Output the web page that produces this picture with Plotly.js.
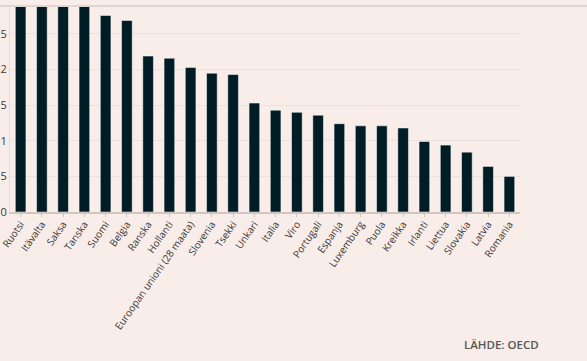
<!DOCTYPE html>
<html>
<head>
<meta charset="utf-8">
<script src="https://cdn.plot.ly/plotly-3.0.1.min.js"></script>
<style>
  html, body { margin: 0; padding: 0; background: #f8ede8; }
  #chart { width: 587px; height: 361px; }
</style>
</head>
<body>
<div id="chart"></div>
<script>
const countries = ["Ruotsi", "Itävalta", "Saksa", "Tanska", "Suomi", "Belgia", "Ranska", "Hollanti",
  "Euroopan unioni (28 maata)", "Slovenia", "Tsekki", "Unkari", "Italia", "Viro", "Portugali",
  "Espanja", "Luxemburg", "Puola", "Kreikka", "Irlanti", "Liettua", "Slovakia", "Latvia", "Romania"];
const values = [3.3, 3.1, 3.0, 2.95, 2.76, 2.69, 2.19, 2.16, 2.03, 1.95, 1.93, 1.53, 1.43, 1.40, 1.36,
  1.24, 1.21, 1.21, 1.18, 0.99, 0.94, 0.84, 0.64, 0.50];
const sourceText = "LÄHDE: OECD";

const textColor = "#383838";
const trace = {
  type: "bar",
  x: countries,
  y: values,
  marker: { color: "#001c24", line: { color: "#ffffff", width: 0.5 } },
  hoverinfo: "x+y"
};

const layout = {
  width: 587,
  height: 361,
  paper_bgcolor: "#f8ede8",
  plot_bgcolor: "#f8ede8",
  margin: { l: 10, r: 67, t: 6, b: 149 },
  separators: ", ",
  bargap: 0.5,
  showlegend: false,
  font: { family: "Open Sans, sans-serif", size: 10, color: textColor },
  xaxis: {
    type: "category",
    tickangle: -55,
    ticks: "outside",
    ticklen: 3,
    tickcolor: "#cfc6c2",
    ticklabelstandoff: -2,
    showline: true,
    linecolor: "#cfc6c2",
    linewidth: 1.5,
    showgrid: false,
    automargin: false,
    tickfont: { family: "Open Sans, sans-serif", size: 10, color: textColor }
  },
  yaxis: {
    range: [0, 2.893],
    dtick: 0.5,
    showgrid: true,
    gridcolor: "#ebe0db",
    gridwidth: 1,
    zeroline: false,
    showline: true,
    linecolor: "#e6dcd8",
    linewidth: 1,
    automargin: false,
    tickfont: { family: "Open Sans, sans-serif", size: 11, color: textColor }
  },
  shapes: [{
    type: "line", xref: "paper", yref: "paper",
    x0: -0.03, x1: 1.14, y0: 1.0, y1: 1.0,
    line: { color: "#e0d5d1", width: 2 }
  }],
  annotations: [{
    text: sourceText,
    xref: "paper", yref: "paper",
    x: 0.886, y: -0.641,
    xanchor: "left", yanchor: "middle",
    showarrow: false,
    font: { family: "Open Sans, sans-serif", size: 11.5, weight: 600, color: "#555555" }
  }]
};

Plotly.newPlot("chart", [trace], layout, { displayModeBar: false, staticPlot: true });
</script>
</body>
</html>
